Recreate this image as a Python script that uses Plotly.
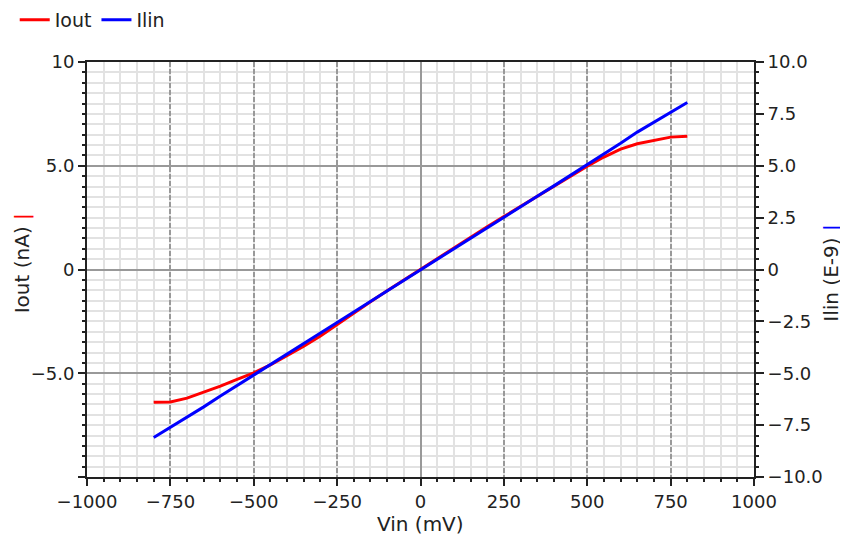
import plotly.graph_objects as go

vin = [-800, -750, -700, -650, -600, -550, -500, -450, -400, -350, -300, -250, -200, -150, -100, -50,
       0, 50, 100, 150, 200, 250, 300, 350, 400, 450, 500, 550, 600, 650, 700, 750, 800]
iout = [-6.40, -6.38, -6.20, -5.92, -5.62, -5.30, -4.98, -4.60, -4.16, -3.70, -3.20, -2.64, -2.08, -1.55, -1.02, -0.50,
        0.0, 0.50, 1.02, 1.55, 2.06, 2.55, 3.04, 3.54, 4.02, 4.52, 4.98, 5.42, 5.80, 6.06, 6.22, 6.38, 6.42]
ilin = [-8.10, -7.62, -7.12, -6.62, -6.10, -5.60, -5.08, -4.58, -4.07, -3.56, -3.06, -2.55, -2.04, -1.53, -1.02, -0.51,
        0.0, 0.51, 1.01, 1.52, 2.02, 2.52, 3.03, 3.53, 4.03, 4.54, 5.04, 5.56, 6.08, 6.62, 7.10, 7.56, 8.05]

x_ticks = [-1000, -750, -500, -250, 0, 250, 500, 750, 1000]
x_labels = ["\u22121000", "\u2212750", "\u2212500", "\u2212250", "0", "250", "500", "750", "1000"]
yl_ticks = [-10, -5, 0, 5, 10]
yl_labels = ["", "\u22125.0", "0", "5.0", "10"]
yr_ticks = [-10, -7.5, -5, -2.5, 0, 2.5, 5, 7.5, 10]
yr_labels = ["\u221210.0", "\u22127.5", "\u22125.0", "\u22122.5", "0", "2.5", "5.0", "7.5", "10.0"]

FONT = "DejaVu Sans"
TXT = "#222222"
FS = 18
TFS = 20

fig = go.Figure()
fig.add_trace(go.Scatter(x=vin, y=iout, name="Iout", mode="lines",
                         line=dict(color="#ff0000", width=3)))
fig.add_trace(go.Scatter(x=vin, y=ilin, name="Ilin", mode="lines", yaxis="y2",
                         line=dict(color="#0000ff", width=3)))

fig.update_layout(
    width=840, height=529,
    margin=dict(l=79, r=94, t=54, b=60, autoexpand=False),
    paper_bgcolor="white", plot_bgcolor="white",
    font=dict(family=FONT, size=FS, color=TXT),
    showlegend=True,
    legend=dict(orientation="h", x=0.008, y=1.147, xref="container", yref="paper",
                xanchor="left", yanchor="top", itemwidth=30,
                font=dict(family=FONT, size=19, color=TXT), bgcolor="rgba(0,0,0,0)"),
    xaxis=dict(range=[-1000, 1000], tickvals=x_ticks, ticktext=x_labels, automargin=False,
               ticks="outside", ticklen=7, tickcolor="#222", tickwidth=1.5,
               showline=True, linecolor="#222", linewidth=2, mirror=True,
               showgrid=True, gridcolor="#999999", griddash="5px,2px", gridwidth=1.5,
               zeroline=True, zerolinecolor="#999999", zerolinewidth=1.5,
               minor=dict(dtick=50, ticks="outside", ticklen=3, tickcolor="#222",
                          showgrid=True, gridcolor="#e2e2e2", gridwidth=1.5, griddash="solid"),
               tickfont=dict(family=FONT, size=FS, color=TXT)),
    yaxis=dict(range=[-10, 10], tickvals=yl_ticks, ticktext=yl_labels, automargin=False,
               ticks="outside", ticklen=7, tickcolor="#222", tickwidth=1.5,
               showline=True, linecolor="#222", linewidth=2,
               showgrid=True, gridcolor="#999999", gridwidth=1.5,
               zeroline=True, zerolinecolor="#999999", zerolinewidth=1.5,
               minor=dict(dtick=0.5, ticks="outside", ticklen=3, tickcolor="#222",
                          showgrid=True, gridcolor="#e2e2e2", gridwidth=1.5, griddash="solid"),
               tickfont=dict(family=FONT, size=FS, color=TXT)),
    yaxis2=dict(range=[-10, 10], overlaying="y", side="right", automargin=False,
                tickvals=yr_ticks, ticktext=yr_labels,
                ticks="outside", ticklen=8, tickcolor="#222", tickwidth=1.5,
                showline=True, linecolor="#222", linewidth=2,
                showgrid=False, zeroline=False,
                minor=dict(dtick=0.5, ticks="outside", ticklen=3, tickcolor="#222", showgrid=False),
                tickfont=dict(family=FONT, size=FS, color=TXT)),
)

title_font = dict(family=FONT, size=TFS, color=TXT)
fig.add_annotation(text="Vin (mV)", xref="paper", yref="paper", x=0.5, y=-0.1133,
                   xanchor="center", yanchor="middle", showarrow=False, font=title_font)
fig.add_annotation(text="Iout (nA) <span style='color:#ff0000'>|</span>", xref="paper", yref="paper",
                   x=-0.0970, y=0.5157, xanchor="center", yanchor="middle", textangle=-90,
                   showarrow=False, font=title_font)
fig.add_annotation(text="Ilin (E-9) <span style='color:#0000ff'>|</span>", xref="paper", yref="paper",
                   x=1.1150, y=0.4916, xanchor="center", yanchor="middle", textangle=-90,
                   showarrow=False, font=title_font)

fig.write_html("out.html")
